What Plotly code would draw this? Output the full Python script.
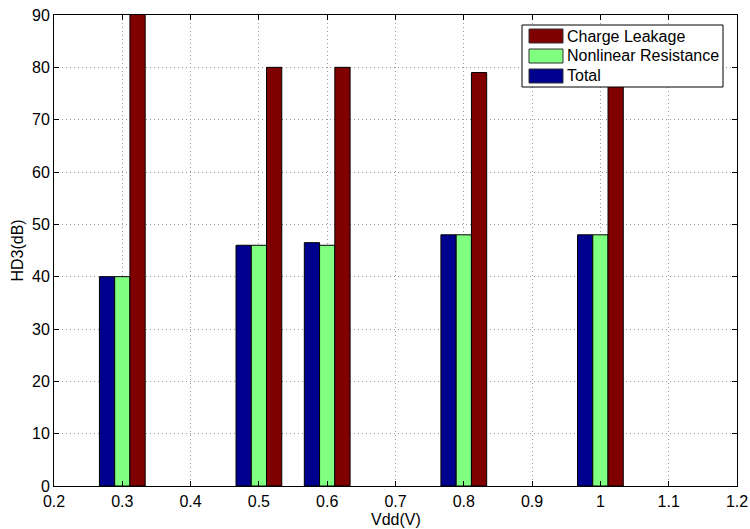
import plotly.graph_objects as go

vdd = [0.3, 0.5, 0.6, 0.8, 1.0]
total = [40, 46, 46.5, 48, 48]
nonlinear = [40, 46, 46, 48, 48]
charge = [92, 80, 80, 79, 78]

x_ticks = [0.2, 0.3, 0.4, 0.5, 0.6, 0.7, 0.8, 0.9, 1.0, 1.1, 1.2]
x_labels = ["0.2", "0.3", "0.4", "0.5", "0.6", "0.7", "0.8", "0.9", "1", "1.1", "1.2"]
y_ticks = [0, 10, 20, 30, 40, 50, 60, 70, 80, 90]

series_names = ["Total", "Nonlinear Resistance", "Charge Leakage"]
series_vals = [total, nonlinear, charge]
series_colors = ["#00008F", "#80FF80", "#800000"]

W, H = 750, 529
ML, MR, MT, MB = 54, 13, 15, 43
PW, PH = W - ML - MR, H - MT - MB

fig = go.Figure()
for name, vals, color in zip(series_names, series_vals, series_colors):
    fig.add_trace(go.Bar(x=vdd, y=vals, name=name, marker_color=color,
                         marker_line_color="black", marker_line_width=1,
                         showlegend=False))

font = dict(family="Liberation Sans, Arial, sans-serif", size=16, color="black")
axis_common = dict(showline=True, linecolor="black", linewidth=1, mirror="ticks",
                   ticks="inside", ticklen=5, tickcolor="black",
                   showgrid=True, gridcolor="#9a9a9a", griddash="1px,3px", gridwidth=1,
                   zeroline=False, tickfont=font, automargin=False)

def px(xp):
    return (xp - ML) / PW

def py(yp):
    return (H - MB - yp) / PH

shapes = [dict(type="rect", xref="paper", yref="paper",
               x0=px(522), x1=px(723), y0=py(87), y1=py(25),
               fillcolor="white", line=dict(color="black", width=1), layer="above")]
annotations = []
row_centers = [36, 56, 76]
for i, (name, color) in enumerate(zip(series_names[::-1], series_colors[::-1])):
    yc = row_centers[i]
    shapes.append(dict(type="rect", xref="paper", yref="paper",
                       x0=px(529), x1=px(563), y0=py(yc + 7), y1=py(yc - 7),
                       fillcolor=color, line=dict(color="#333333", width=1), layer="above"))
    annotations.append(dict(xref="paper", yref="paper", x=px(565), y=py(yc),
                            xanchor="left", yanchor="middle", text=name,
                            showarrow=False, font=font))

# x-axis title
annotations.append(dict(xref="paper", yref="paper", x=0.5, y=py(519),
                        xanchor="center", yanchor="middle", text="Vdd(V)",
                        showarrow=False, font=font))

fig.update_layout(
    width=W, height=H,
    margin=dict(l=ML, r=MR, t=MT, b=MB),
    paper_bgcolor="white", plot_bgcolor="white",
    barmode="group", bargap=0.33, bargroupgap=0,
    font=font,
    showlegend=False,
    shapes=shapes, annotations=annotations,
    xaxis=dict(range=[0.2, 1.2], tickvals=x_ticks, ticktext=x_labels,
               ticklabelstandoff=1, **axis_common),
    yaxis=dict(range=[0, 90], tickvals=y_ticks,
               title=dict(text="HD3(dB)", font=font, standoff=4), **axis_common),
)

fig.write_html("out.html")
